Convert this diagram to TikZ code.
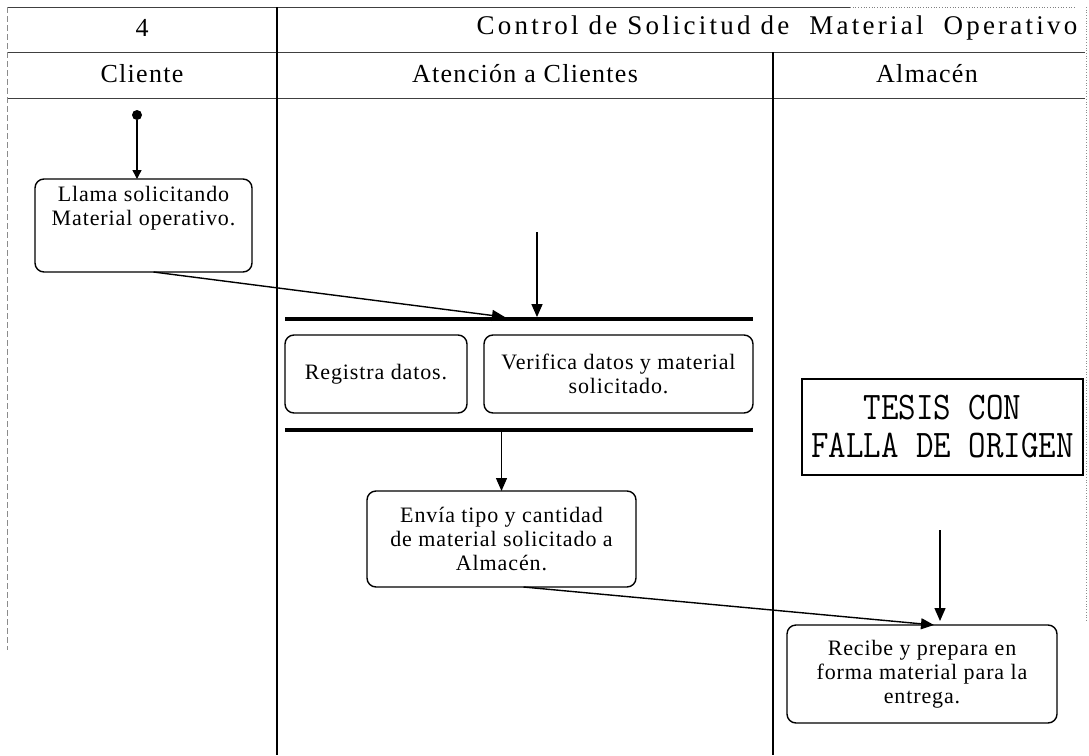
\documentclass[tikz,border=0pt]{standalone}
\usepackage{fontspec}
\setmainfont{Liberation Serif}
\newfontfamily\headfont[LetterSpace=5]{Liberation Serif}
\newfontfamily\titlefont[LetterSpace=12]{Liberation Serif}
\newfontfamily\boxfont[LetterSpace=4]{Liberation Serif}
\usetikzlibrary{arrows.meta,calc}
\begin{document}
\begin{tikzpicture}[x=1pt,y=-1pt,
  every node/.style={inner sep=0pt, outer sep=0pt},
  frameline/.style={black!75, line width=1pt},
  laneline/.style={black, line width=1.1pt},
  faint/.style={black!45, line width=0.6pt, dash pattern=on 6pt off 3pt},
  headtext/.style={font=\headfont\fontsize{26}{28}\selectfont},
  actbox/.style={draw, line width=1.4pt, rounded corners=9pt, align=center,
    font=\boxfont\fontsize{22}{24}\selectfont},
  syncbar/.style={fill=black, minimum height=3.8pt},
  flow/.style={line width=1.4pt, -{Triangle[length=13pt,width=11pt]}},
  stamp/.style={draw, line width=1.6pt, align=center,
    font=\ttfamily\fontsize{34}{38}\selectfont}
]
\useasboundingbox (0,0) rectangle (1089,755);

% table frame and swimlane separators
\draw[frameline] (7,7) -- (850,7);
\draw[black!50, line width=0.7pt, dotted] (850,7) -- (1075,7);
\draw[frameline] (7,52) -- (1085,52);
\draw[frameline] (7,98) -- (1085,98);
\draw[faint] (7,7) -- (7,650);
\draw[black!45, line width=0.7pt, dotted] (1086,7) -- (1086,620);
\draw[laneline] (277,7) -- (277,755);
\draw[laneline] (773,52) -- (773,755);

% headings
\node[headtext] (num) at (142,28) {4};
\node[font=\titlefont\fontsize{27}{29}\selectfont] (title) at (777,28)
  {Control de Solicitud de\ \ Material\ \ Operativo};
\node[headtext] (cli) at (142,74) {Cliente};
\node[headtext] (aten) at (525,74) {Atención a Clientes};
\node[headtext] (alm) at (927,74) {Almacén};

% activities
\node[circle, fill, minimum size=10pt] (start) at (137,115) {};
\node[actbox] (llama) at (143.5,225.5)
  {\begin{minipage}[c][93pt][t]{217pt}\centering\vspace*{7pt}Llama solicitando\\Material operativo.\end{minipage}};
\node[syncbar, minimum width=468pt] (join) at (519,319) {};
\node[actbox, minimum width=182pt, minimum height=78pt] (registra) at (376,374) {Registra datos.};
\node[actbox, minimum width=269pt, minimum height=78pt] (verifica) at (618.5,374) {Verifica datos y material\\solicitado.};
\node[syncbar, minimum width=468pt] (fork) at (519,430) {};
\node[actbox, minimum width=269pt, minimum height=96pt] (envia) at (501.5,539)
  {Envía tipo y cantidad\\de material solicitado a\\Almacén.};
\node[actbox, minimum width=270pt, minimum height=98pt] (recibe) at (922,674)
  {Recibe y prepara en\\forma material para la\\entrega.};

% stamp
\node[stamp, minimum width=281pt, minimum height=96pt] (tesis) at (942.5,427)
  {\scalebox{1}[1.15]{TESIS CON}\\\scalebox{1}[1.15]{FALLA DE ORIGEN}};

% free ends of incoming flows
\coordinate (inA) at (537,232);
\coordinate (inB) at (940,530);

% flows
\draw[line width=1.4pt, -{Triangle[length=9pt,width=9pt]}] (start) -- (start |- llama.north);
\draw[flow] ([xshift=10pt]llama.south) -- ($(join.north)+(-14,0)$);
\draw[flow] (inA) -- (inA |- join.north);
\draw[flow] (fork.south -| envia.north) -- (envia.north);
\draw[flow] ([xshift=22pt]envia.south) -- ($(recibe.north)+(12,0)$);
\draw[flow, shorten >=4pt] (inB) -- (inB |- recibe.north);
\end{tikzpicture}
\end{document}
